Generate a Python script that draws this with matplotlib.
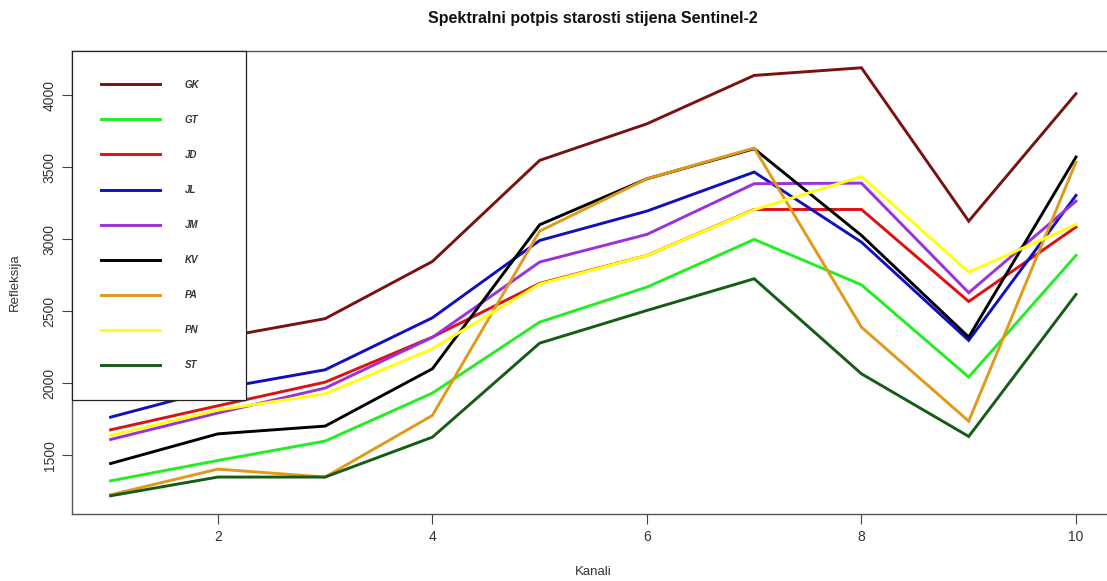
import matplotlib
matplotlib.use("Agg")
import matplotlib.pyplot as plt

kanali = [1, 2, 3, 4, 5, 6, 7, 8, 9, 10]
GK = [2150, 2315, 2450, 2847, 3549, 3803, 4139, 4192, 3127, 4012]
GT = [1324, 1465, 1600, 1933, 2426, 2669, 3000, 2685, 2044, 2889]
JD = [1678, 1845, 2009, 2322, 2695, 2889, 3208, 3208, 2569, 3086]
JL = [1766, 1963, 2095, 2456, 2993, 3197, 3468, 2981, 2299, 3306]
JM = [1611, 1795, 1968, 2320, 2843, 3035, 3387, 3391, 2630, 3266]
KV = [1444, 1650, 1704, 2102, 3102, 3421, 3630, 3028, 2322, 3572]
PA = [1227, 1405, 1350, 1778, 3058, 3421, 3635, 2391, 1738, 3537]
PN = [1639, 1815, 1928, 2241, 2690, 2889, 3206, 3437, 2773, 3104]
ST = [1220, 1350, 1350, 1627, 2280, 2507, 2727, 2067, 1632, 2618]

series = [("GK", GK, "#7a1111"), ("GT", GT, "#22ee22"), ("JD", JD, "#dd1111"),
          ("JL", JL, "#1010c0"), ("JM", JM, "#9932dd"), ("KV", KV, "#000000"),
          ("PA", PA, "#e09a1a"), ("PN", PN, "#ffff10"), ("ST", ST, "#155c15")]

x_ticks = [2, 4, 6, 8, 10]
y_ticks = [1500, 2000, 2500, 3000, 3500, 4000]

plt.rcParams['font.family'] = ['Liberation Sans', 'DejaVu Sans']

fig = plt.figure(figsize=(11.07, 5.81), dpi=100)
ax = fig.add_axes([72/1107, 1-513.5/581, 1042.6/1107, 463/581])

for name, vals, col in series:
    ax.plot(kanali, vals, color=col, lw=2.1, label=name, solid_joinstyle='miter')

ax.set_xlim(0.64, 10.36)
ax.set_ylim(1097, 4312)
ax.set_xticks(x_ticks)
ax.set_yticks(y_ticks)
ax.set_yticklabels([str(v) for v in y_ticks], rotation=90, va='center')
ax.tick_params(axis='both', direction='out', length=7, width=0.8, color='#444444',
               labelsize=10, labelcolor='#333333')
ax.tick_params(axis='x', pad=5)
ax.tick_params(axis='y', pad=4)
for s in ax.spines.values():
    s.set_color('#555555')
    s.set_linewidth(1.0)

ax.set_xlabel("Kanali", fontsize=9.5, color='#333333', labelpad=16)
ax.set_ylabel("Refleksija", fontsize=9.5, color='#333333', labelpad=16)
fig.text(593/1107, 1-18/581, "Spektralni potpis starosti stijena Sentinel-2",
         ha='center', va='center', fontsize=11.5, fontweight='bold', color='#111111')

leg = ax.legend(loc='upper left', bbox_to_anchor=(0, 0.2393, 0.1669, 1-0.2393),
                mode='expand', borderaxespad=0, fancybox=False, framealpha=1,
                edgecolor='#222222', prop={'size': 7, 'weight': 'bold', 'style': 'italic'},
                handlelength=6.0, handletextpad=2.6, borderpad=3.0, labelspacing=2.58)
leg.get_frame().set_linewidth(0.9)
for t in leg.get_texts():
    t.set_color('#333333')
for l in leg.get_lines():
    l.set_linewidth(2.1)

fig.savefig("out.png", dpi=100)
